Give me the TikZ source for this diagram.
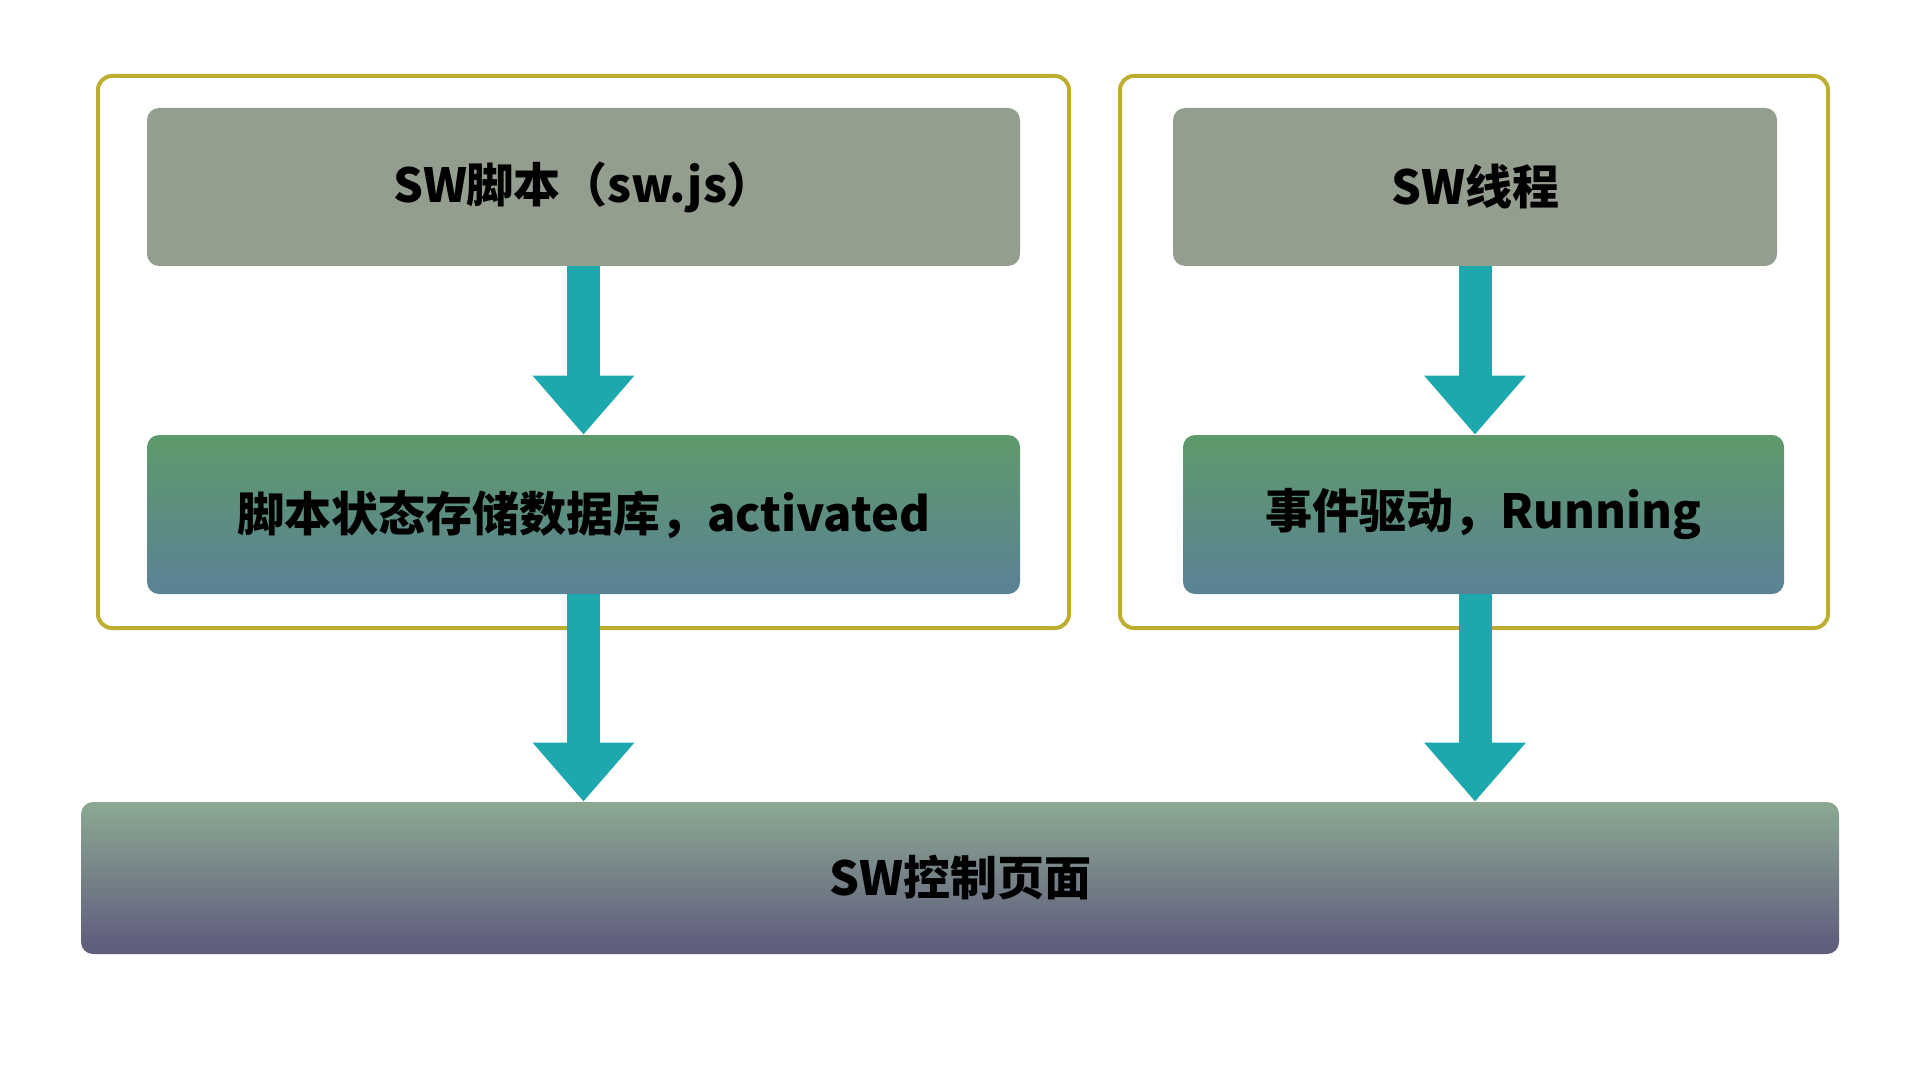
\documentclass[tikz,border=0pt]{standalone}
\usepackage{fontspec}
\newfontfamily\cjk{Noto Sans CJK SC}
\usetikzlibrary{arrows.meta}
\definecolor{boxgrey}{HTML}{939E8F}
\definecolor{greentop}{HTML}{5E9A6B}
\definecolor{greenbot}{HTML}{5A8296}
\definecolor{pagetop}{HTML}{8CA993}
\definecolor{pagebot}{HTML}{5E5A7C}
\definecolor{frameyel}{HTML}{BEAE30}
\definecolor{arrowteal}{HTML}{1DA8AD}
\begin{document}
\begin{tikzpicture}[x=1pt,y=1pt,line join=round,font=\cjk\bfseries\fontsize{23.5}{27}\selectfont,
	frame/.style={draw=frameyel,line width=2pt,rounded corners=7pt,inner sep=0pt},
	greybox/.style={fill=boxgrey,rounded corners=6pt,inner sep=0pt,minimum height=79pt},
	greenbox/.style={top color=greentop,bottom color=greenbot,rounded corners=6pt,inner sep=0pt,minimum height=79.5pt},
	pagebox/.style={top color=pagetop,bottom color=pagebot,rounded corners=6pt,inner sep=0pt,minimum height=76pt},
	fatarrow/.style={draw=arrowteal,line width=16.5pt,line cap=butt,-{Triangle[width=49pt,length=29.5pt,fill=arrowteal]}}]
	\useasboundingbox (0,0) rectangle (960,-540);
	% outer frames
	\node[frame,minimum width=485.5pt,minimum height=276pt] (left) at (291.75,-176) {};
	\node[frame,minimum width=354pt,minimum height=276pt] (right) at (737,-176) {};
	% boxes
	\node[greybox,minimum width=436.5pt] (script) at (291.75,-93.5) {SW脚本（sw.js）};
	\node[greybox,minimum width=302pt] (thread) at (737.5,-93.5) {SW线程};
	\node[greenbox,minimum width=436.5pt] (store) at (291.75,-257.25) {脚本状态存储数据库，activated};
	\node[greenbox,minimum width=300.5pt] (event) at (741.75,-257.25) {事件驱动，Running};
	\node[pagebox,minimum width=879pt] (page) at (480,-439) {SW控制页面};
	% arrows
	\draw[fatarrow] (script.south) -- (store.north);
	\draw[fatarrow] (thread.south) -- (thread.south |- event.north);
	\draw[fatarrow] (store.south) -- (store.south |- page.north);
	\draw[fatarrow] (thread.south |- event.south) -- (thread.south |- page.north);
\end{tikzpicture}
\end{document}
